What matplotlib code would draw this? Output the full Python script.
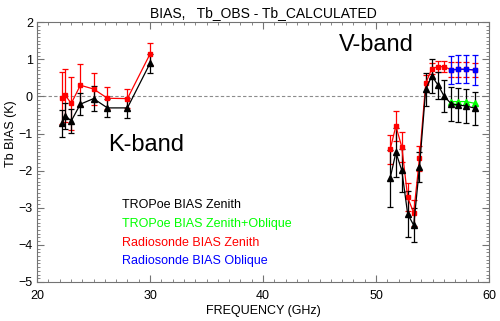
import numpy as np
import matplotlib
matplotlib.use("Agg")
import matplotlib.pyplot as plt
from matplotlib.ticker import MultipleLocator

plt.rcParams['font.family'] = ['Liberation Sans', 'DejaVu Sans']

# K-band channels (GHz)
freq_k = [22.234, 22.5, 23.034, 23.834, 25.0, 26.234, 28.0, 30.0]
tropoe_k = [-0.73, -0.52, -0.66, -0.21, -0.06, -0.31, -0.31, 0.89]
tropoe_k_err = [0.37, 0.35, 0.33, 0.30, 0.33, 0.24, 0.26, 0.25]
sonde_k = [-0.05, 0.03, -0.19, 0.30, 0.20, -0.05, -0.06, 1.14]
sonde_k_err = [0.70, 0.72, 0.72, 0.56, 0.44, 0.29, 0.25, 0.30]

# V-band channels (GHz)
freq_v = [51.248, 51.76, 52.28, 52.804, 53.336, 53.848, 54.4, 54.94,
          55.5, 56.02, 56.66, 57.288, 57.964, 58.8]
tropoe_v = [-2.21, -1.51, -1.99, -3.17, -3.47, -1.90, 0.19, 0.55,
            0.30, 0.01, -0.20, -0.23, -0.26, -0.32]
tropoe_v_err = [0.77, 0.65, 0.58, 0.62, 0.46, 0.40, 0.45, 0.45,
                0.36, 0.43, 0.45, 0.45, 0.45, 0.45]
sonde_v = [-1.43, -0.80, -1.36, -2.72, -3.14, -1.67, 0.35, 0.75,
           0.80, 0.80, 0.72, 0.73, 0.73, 0.71]
sonde_v_err = [0.38, 0.40, 0.41, 0.38, 0.35, 0.33, 0.22, 0.16,
               0.14, 0.14, 0.20, 0.20, 0.20, 0.20]

# oblique channels
freq_obl = [56.66, 57.288, 57.964, 58.8]
tropoe_obl = [-0.14, -0.14, -0.14, -0.19]
sonde_obl = [0.71, 0.73, 0.73, 0.71]
sonde_obl_err = [0.37, 0.38, 0.38, 0.40]

legend_labels = ["TROPoe BIAS Zenith", "TROPoe BIAS Zenith+Oblique",
                 "Radiosonde BIAS Zenith", "Radiosonde BIAS Oblique"]
legend_colors = ["black", "#00ff00", "#ff0000", "#0000ff"]

fig = plt.figure(figsize=(5.0, 3.21), dpi=100)
ax = fig.add_axes([0.074, 0.1215, 0.904, 0.8095])

ekw = dict(lw=0.9, elinewidth=0.9, capsize=2.2, capthick=0.9)

for f, v, e in [(freq_k, sonde_k, sonde_k_err), (freq_v, sonde_v, sonde_v_err)]:
    ax.errorbar(f, v, yerr=e, color='#ff0000', marker='s', ms=3.5, **ekw)
for f, v, e in [(freq_k, tropoe_k, tropoe_k_err), (freq_v, tropoe_v, tropoe_v_err)]:
    ax.errorbar(f, v, yerr=e, color='black', marker='^', ms=4, **ekw)
ax.plot(freq_obl, tropoe_obl, color='#00ff00', marker='^', ms=4, lw=0.9)
ax.errorbar(freq_obl, sonde_obl, yerr=sonde_obl_err, color='#0000ff',
            marker='s', ms=3.5, **ekw)

ax.axhline(0, color='0.55', ls='--', lw=0.8, dashes=(3, 2), zorder=0)

ax.text(29.7, -1.31, "K-band", fontsize=17, ha='center', va='center')
ax.text(50.0, 1.38, "V-band", fontsize=17, ha='center', va='center')

for i, (lab, col) in enumerate(zip(legend_labels, legend_colors)):
    ax.text(0.189, 0.295 - i * 0.0715, lab, color=col, fontsize=9,
            transform=ax.transAxes, va='center')

ax.set_xlim(20, 60)
ax.set_ylim(-5, 2)
ax.xaxis.set_major_locator(MultipleLocator(10))
ax.xaxis.set_minor_locator(MultipleLocator(1))
ax.yaxis.set_major_locator(MultipleLocator(1))
ax.yaxis.set_minor_locator(MultipleLocator(0.1))
ax.tick_params(which='both', direction='in', top=True, right=True,
               color='0.45', labelsize=9, pad=3)
ax.tick_params(axis='x', which='both', pad=6)
ax.tick_params(which='major', length=5)
ax.tick_params(which='minor', length=2.5)
for s in ax.spines.values():
    s.set_color('0.45')
    s.set_linewidth(0.8)

ax.set_xlabel("FREQUENCY (GHz)", fontsize=9, labelpad=2)
ax.set_ylabel("Tb BIAS (K)", fontsize=9)
ax.yaxis.set_label_coords(-0.044, 0.57)
ax.set_title("BIAS,   Tb_OBS - Tb_CALCULATED", fontsize=10, pad=4)

fig.savefig("out.png", dpi=100)
